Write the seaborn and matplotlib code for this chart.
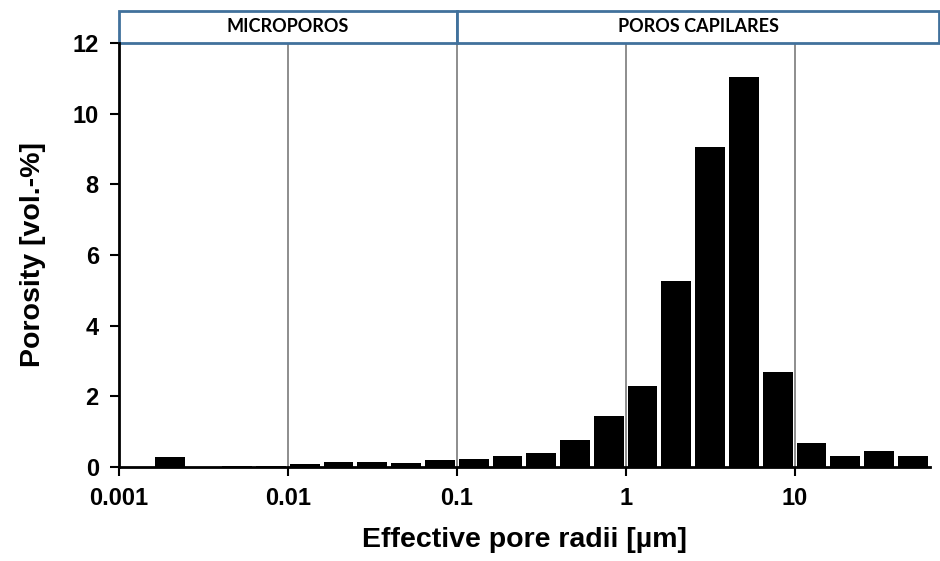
import numpy as np
import pandas as pd
import seaborn as sns
import matplotlib.pyplot as plt
import matplotlib.transforms as mtransforms
from matplotlib.patches import Rectangle

# Data: 5 bins per decade, log10 of bin centres
log_centers = [-2.9, -2.7, -2.5, -2.3, -2.1,
               -1.9, -1.7, -1.5, -1.3, -1.1,
               -0.9, -0.7, -0.5, -0.3, -0.1,
               0.1, 0.3, 0.5, 0.7, 0.9,
               1.1, 1.3, 1.5, 1.7]
porosity = [0.0, 0.28, 0.0, 0.02, 0.04,
            0.08, 0.15, 0.13, 0.11, 0.20,
            0.23, 0.32, 0.40, 0.77, 1.44,
            2.29, 5.26, 9.06, 11.05, 2.69,
            0.68, 0.32, 0.45, 0.31]
tick_vals = [0.001, 0.01, 0.1, 1, 10]
tick_labels = ["0.001", "0.01", "0.1", "1", "10"]
regions = ["MICROPOROS", "POROS CAPILARES"]
region_edges = [0.001, 0.1, 72]

df = pd.DataFrame({"radius": 10 ** np.array(log_centers), "porosity": porosity})

sns.set_style("white")
plt.rcParams["font.family"] = ["Liberation Sans", "DejaVu Sans"]
plt.rcParams["text.color"] = "black"
plt.rcParams["axes.labelcolor"] = "black"
plt.rcParams["xtick.color"] = "black"
plt.rcParams["ytick.color"] = "black"

fig = plt.figure(figsize=(9.4, 5.61), dpi=100)
ax = fig.add_axes([0.1266, 0.1676, 0.8624, 0.7558])
ax.set_xscale("log")

sns.barplot(data=df, x="radius", y="porosity", native_scale=True,
            color="black", saturation=1, width=0.88, linewidth=0, ax=ax)

ax.set_xlim(1e-3, 10 ** 1.8)
ax.set_ylim(0, 12)
ax.set_xticks(tick_vals)
ax.set_xticklabels(tick_labels)
ax.minorticks_off()
ax.set_yticks(range(0, 13, 2))

ax.set_axisbelow(True)
ax.grid(axis="x", color="#7a7a7a", linewidth=1.2)
ax.grid(axis="y", visible=False)

for s in ["top", "right"]:
    ax.spines[s].set_visible(False)
for s in ["left", "bottom"]:
    ax.spines[s].set_color("black")
    ax.spines[s].set_linewidth(2)

ax.tick_params(axis="both", direction="out", length=6.5, width=1.5, color="black",
               labelcolor="black", labelsize=17, pad=8, bottom=True, left=True)
for lab in ax.get_xticklabels() + ax.get_yticklabels():
    lab.set_fontweight("bold")

ax.set_xlabel("Effective pore radii [µm]", fontsize=20.5, fontweight="bold", labelpad=12)
ax.set_ylabel("Porosity [vol.-%]", fontsize=20.5, fontweight="bold", labelpad=19)

# header boxes above the plot
trans = mtransforms.blended_transform_factory(ax.transData, ax.transAxes)
box_h = 32 / 424
for name, x0, x1 in zip(regions, region_edges[:-1], region_edges[1:]):
    ax.add_patch(Rectangle((x0, 1.0), x1 - x0, box_h, transform=trans,
                           facecolor="white", edgecolor="#41719c", linewidth=2,
                           clip_on=False))
    ax.text(np.sqrt(x0 * x1), 1.0 + box_h / 2, name, transform=trans,
            ha="center", va="center", fontsize=13, fontweight="bold",
            color="black", family=["Lato", "Liberation Sans", "DejaVu Sans"])

fig.savefig("out.png", dpi=100, facecolor="white")
